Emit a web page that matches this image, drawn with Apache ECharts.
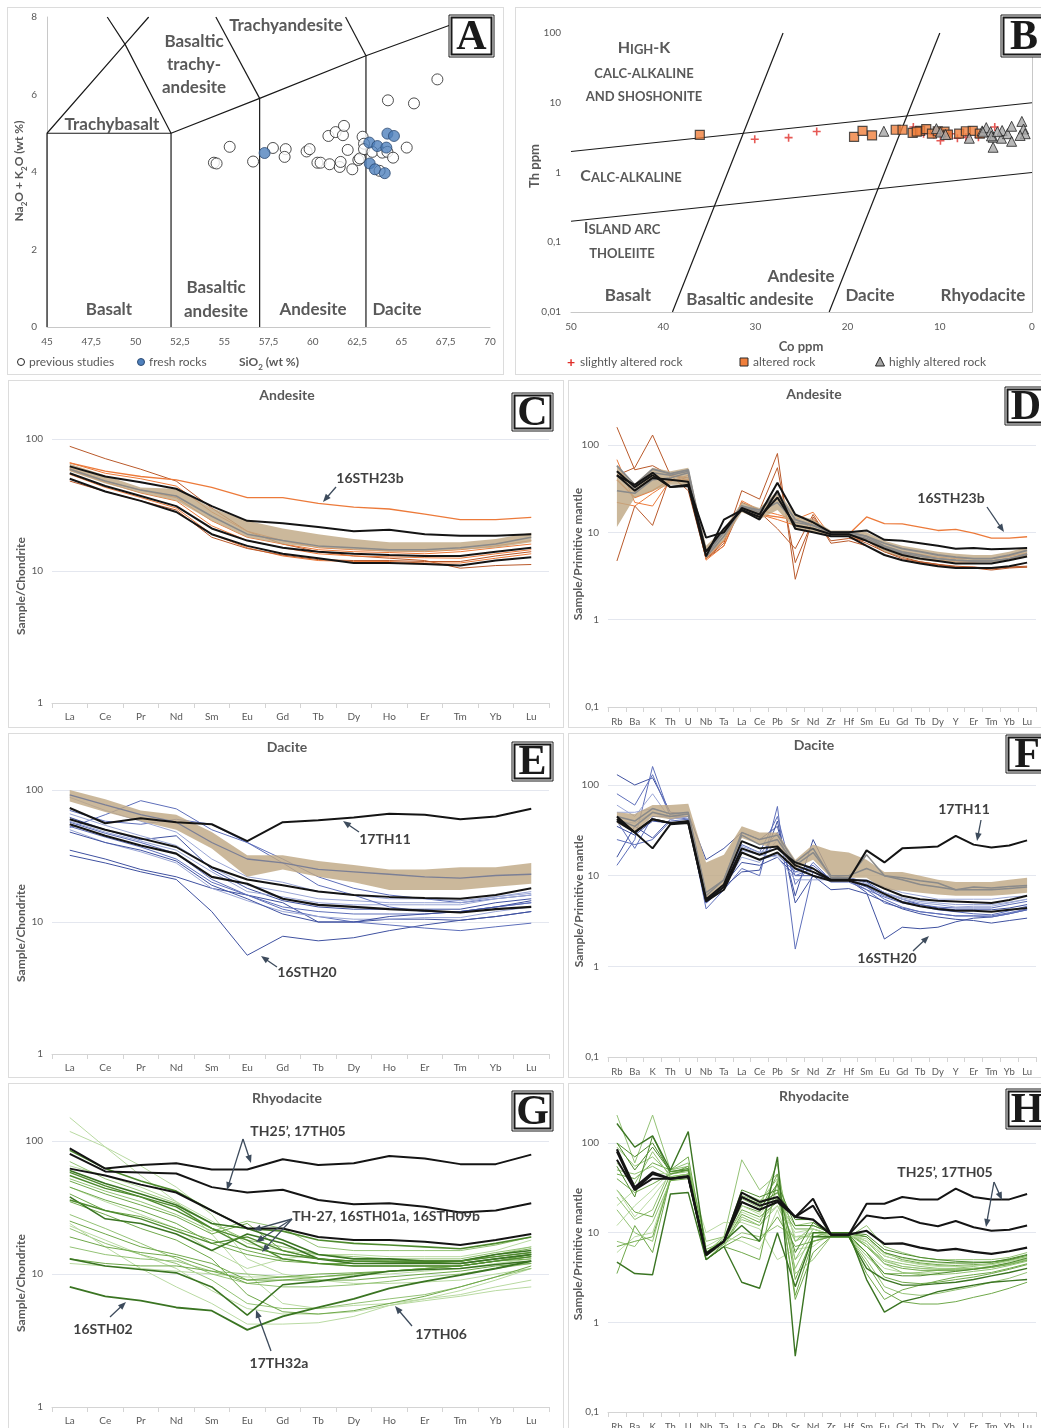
<!DOCTYPE html>
<html>
<head>
<meta charset="utf-8">
<script src="https://cdn.jsdelivr.net/npm/echarts@6/dist/echarts.min.js"></script>
<style>
  html, body { margin: 0; padding: 0; background: #fff; width: 1041px; height: 1428px; overflow: hidden; position: relative; }
  .panel { position: absolute; border: 1px solid #dcdcdc; box-sizing: border-box; background: #fff; }
</style>
</head>
<body>
<div id="pA" class="panel" style="left:7px;top:7px;width:497px;height:368px"></div>
<div id="pB" class="panel" style="left:515px;top:7px;width:532px;height:368px"></div>
<div id="pC" class="panel" style="left:8px;top:380px;width:556px;height:348px"></div>
<div id="pD" class="panel" style="left:568px;top:380px;width:482px;height:348px"></div>
<div id="pE" class="panel" style="left:8px;top:733px;width:556px;height:345px"></div>
<div id="pF" class="panel" style="left:568px;top:733px;width:482px;height:345px"></div>
<div id="pG" class="panel" style="left:8px;top:1083px;width:556px;height:352px"></div>
<div id="pH" class="panel" style="left:568px;top:1083px;width:482px;height:352px"></div>
<script>
// element lists
const REE = ['La', 'Ce', 'Pr', 'Nd', 'Sm', 'Eu', 'Gd', 'Tb', 'Dy', 'Ho', 'Er', 'Tm', 'Yb', 'Lu'];
const PM = ['Rb', 'Ba', 'K', 'Th', 'U', 'Nb', 'Ta', 'La', 'Ce', 'Pb', 'Sr', 'Nd', 'Zr', 'Hf', 'Sm', 'Eu', 'Gd', 'Tb', 'Dy', 'Y', 'Er', 'Tm', 'Yb', 'Lu'];

// A - TAS
const prevSiO2 = [54.42, 54.57, 55.31, 56.63, 57.75, 58.47, 58.41, 59.65, 59.82, 60.26, 60.44, 60.95, 60.88, 61.29, 61.70, 61.76, 61.52, 61.57, 61.97, 62.23, 62.57, 62.66, 62.81, 62.89, 62.89, 63.36, 63.77, 63.92, 64.21, 64.53, 64.24, 65.71, 65.30, 67.03];
const prevAlk = [4.24, 4.22, 4.65, 4.27, 4.62, 4.59, 4.39, 4.53, 4.59, 4.24, 4.24, 4.20, 4.93, 5.03, 4.95, 5.19, 4.13, 4.26, 4.57, 4.07, 4.31, 4.35, 4.91, 4.73, 4.59, 4.52, 4.03, 4.50, 4.52, 4.37, 5.85, 5.77, 4.63, 6.39];
const freshSiO2 = [57.28, 63.19, 63.64, 64.15, 64.21, 64.58, 63.21, 63.51, 64.06];
const freshAlk = [4.49, 4.76, 4.67, 4.63, 4.99, 4.93, 4.22, 4.07, 3.97];

// B - Th vs Co
const slightCo = [30.07, 26.4, 23.35, 12.87, 9.93, 8.09, 5.81, 4.04, 7.17, 11.76, 10.66, 8.8];
const slightTh = [3.0, 3.16, 3.88, 4.5, 2.85, 3.1, 3.2, 4.5, 3.2, 3.6, 3.5, 3.6];
const alteredCo = [36.03, 19.3, 18.38, 17.35, 14.78, 14.04, 12.94, 12.13, 11.47, 10.85, 10.22, 9.49, 9.12, 7.9, 7.17, 6.43, 5.66, 12.5];
const alteredTh = [3.47, 3.25, 3.95, 3.4, 4.1, 4.1, 3.7, 3.95, 4.2, 3.6, 3.9, 3.85, 3.5, 3.6, 3.9, 3.95, 3.6, 3.85];
const highCo = [16.07, 10.37, 9.93, 9.38, 6.8, 5.4, 4.96, 4.49, 4.22, 4.22, 4.4, 3.31, 3.24, 2.65, 2.21, 2.21, 1.1, 0.92, 0.74, 1.29, 3.75, 5.33];
const highTh = [3.9, 4.25, 3.8, 3.5, 3.1, 3.95, 4.4, 3.85, 3.2, 2.3, 3.35, 3.1, 4.0, 3.6, 4.6, 2.8, 5.4, 4.2, 3.6, 3.4, 3.85, 3.8];

// C - andesite, chondrite
const cBandHigh = [65, 53, 43, 42, 30, 24, 21, 19, 17.5, 16.5, 16.5, 16.5, 17.5, 19.5];
const cBandLow = [57, 46, 39, 34, 24, 18, 16, 15, 14.5, 14, 14, 14.5, 15, 16.5];
const cGrey = [59, 48, 41, 37, 26, 19, 17, 15.5, 15, 14.5, 14.5, 15, 16, 18];
const c16STH23b = [66, 57, 52, 49, 43, 36, 36, 32.5, 30.5, 29.5, 27, 24.5, 24.5, 25.5];
const cBrown = [88, 71, 59, 48, 30, 20, 16, 14, 13, 12.5, 12, 10.5, 11, 11.2];
const cOrange1 = [54, 43, 36, 30, 19, 15, 13, 12, 11.8, 11.8, 11.5, 11.5, 12.5, 13.5];
const cOrange2 = [58, 47, 39, 34, 22, 17, 15, 13.5, 13, 12.8, 12.6, 12.5, 13.5, 14.5];
const cOrange3 = [48, 40, 34, 29, 18, 14.8, 13.2, 12.2, 12, 12, 11.8, 11.8, 13, 14];
const cOrange4 = [60, 48, 41, 36, 24, 18, 16, 14.5, 14, 13.8, 13.5, 14, 15, 16];
const cOrange5 = [66, 55, 50, 44, 28, 20, 17, 15, 14.5, 14.2, 14, 14.5, 15.5, 17];
const cBlack1 = [62, 52, 47, 42, 31, 24, 23, 21.5, 20, 20.5, 19, 18.5, 18.5, 19];
const cBlack2 = [55, 44, 37, 31, 21, 17, 15, 14, 13.5, 13.2, 13, 13, 14, 15];
const cBlack3 = [50, 40, 34, 28, 19, 15.5, 13.5, 12.5, 11.5, 11.5, 11.3, 11, 12, 12.7];

// D - andesite, primitive mantle
const dBandHigh = [58, 36, 55, 50, 55, 7, 11, 22, 19, 30, 16, 14, 10.5, 10.5, 10, 8, 7, 6.5, 6, 5.7, 5.5, 5.5, 6, 6.8];
const dBandLow = [11.5, 25, 30, 35, 35, 5, 8, 17, 14, 18, 11, 10, 9, 9, 8, 6, 5.2, 4.8, 4.6, 4.5, 4.5, 4.5, 4.8, 5.3];
const dGrey1 = [58, 35, 53, 47, 52, 5.5, 10, 20, 18, 28, 14, 12, 10, 10, 9, 7.5, 6.5, 6, 5.5, 5.2, 5, 5, 5.5, 6.2];
const dGrey2 = [30, 28, 40, 42, 48, 6, 10, 20, 17, 22, 13, 12, 10, 10, 9, 7, 6, 5.5, 5, 4.8, 4.7, 4.7, 5, 5.6];
const dGrey3 = [50, 32, 48, 45, 50, 5.2, 9, 19, 16, 25, 12, 11, 9.5, 9.5, 8.5, 6.8, 5.8, 5.3, 5, 4.8, 4.7, 4.7, 5, 5.7];
const d16STH23b = [40, 25, 30, 40, 40, 5.5, 8, 20, 16, 15, 14, 12, 10, 9.5, 15, 12.6, 12.5, 11.5, 10.5, 10.8, 9.8, 8.6, 8.6, 8.9];
const dBrown1 = [160, 52, 58, 45, 30, 5, 7.5, 30, 24, 80, 2.9, 15, 8, 8.5, 8, 6, 5.2, 4.6, 4.3, 4.1, 4, 3.9, 4, 4];
const dBrown2 = [4.7, 20, 12, 45, 40, 5, 8, 22, 18, 55, 4.5, 14, 9, 9, 7.5, 6, 5, 4.6, 4.3, 4, 4, 3.8, 4, 4.1];
const dBrown3 = [45, 55, 130, 45, 42, 5, 7, 20, 17, 11, 6.5, 16, 7.5, 8, 7, 5.5, 4.8, 4.5, 4.2, 4, 3.9, 3.7, 3.9, 4];
const dOrange1 = [68, 22, 20, 40, 38, 4.8, 7, 23, 18, 16, 14, 17, 9, 9, 8.5, 7, 6, 5.6, 5.2, 5, 5, 5, 5.3, 5.8];
const dOrange2 = [22, 20, 28, 38, 45, 5, 8, 20, 16, 14, 12, 11, 9, 9, 8, 6.3, 5.5, 5, 4.8, 4.6, 4.6, 4.7, 5, 5.5];
const dBlack1 = [45, 35, 48, 33, 35, 8.7, 10, 19, 16, 37, 16, 13, 10, 10, 10.5, 8.2, 8, 7.5, 7, 6.5, 6.6, 6.4, 6.5, 6.6];
const dBlack2 = [50, 33, 45, 33, 34, 5.3, 14, 18, 14, 30, 11, 10, 9, 9, 7, 5.5, 4.8, 4.4, 4.1, 3.9, 3.9, 3.9, 4.1, 4.5];
const dBlack3 = [45, 30, 42, 40, 38, 6, 11, 18, 15, 25, 12, 11, 9.5, 9.5, 8, 6.5, 5.5, 5, 4.7, 4.4, 4.4, 4.4, 4.8, 5.3];

// E - dacite, chondrite
const eBandHigh = [100, 85, 70, 65, 48, 32, 32, 29, 27, 25, 25, 26, 26, 28];
const eBandLow = [82, 68, 58, 50, 36, 22, 25, 22, 20, 17.5, 17.5, 17.5, 18.5, 19.5];
const eGrey = [92, 77, 65, 57, 40, 30, 28, 25, 24, 23, 22, 21.5, 22.5, 23];
const e17TH11 = [73, 56, 61, 57, 55, 41, 57, 59, 62, 66, 65, 60, 63, 72];
const eBlack2 = [60, 50, 43, 37, 26, 21, 19, 17, 16, 15.5, 15.2, 15, 16, 18];
const eBlack3 = [55, 45, 38, 33, 22, 19.5, 15, 13.5, 13, 12.5, 12.2, 11.8, 12.5, 13];
const e16STH20 = [32, 28, 24, 21, 12, 5.6, 7.8, 7.2, 7.6, 8.6, 9.5, 10.3, 11, 12];
const eBlue1 = [52, 65, 83, 72, 50, 40, 30, 22, 18, 16, 15, 14, 15, 16];
const eBlue2 = [35, 30, 25, 22, 18, 16, 14, 10, 10, 10.5, 10.5, 10.3, 11, 12];
const eBlue3 = [57, 47, 40, 33, 21, 16, 12.5, 11, 10, 9.5, 9, 8.6, 9.2, 9.8];
const eBlue4 = [50, 40, 34, 28, 18, 14.5, 12, 11, 10.5, 10.5, 10.8, 10.8, 12, 13];
const eBlue5 = [53, 44, 37, 30, 20, 16, 13, 12, 11.5, 11.5, 11.5, 12, 13, 14];
const eBlue6 = [62, 50, 42, 45, 25, 18, 14.5, 13, 12.5, 12.5, 12.5, 12.5, 14, 15];
const eBlue7 = [58, 48, 41, 35, 24, 17, 15.5, 14, 13.5, 13.5, 13.5, 13.5, 15, 16];
const eBlue8 = [66, 54, 45, 38, 26, 19, 17, 15, 14.5, 14, 14, 14, 15.5, 17];
const eBlue9 = [70, 58, 55, 60, 55, 40, 28, 19, 16, 13, 12, 12, 13, 14];
const eBlue10 = [48, 40, 35, 29, 19, 15, 11.5, 10, 10, 11, 11.5, 12, 13, 14.5];
const eBlue11 = [88, 70, 58, 48, 30, 22, 20, 17, 16, 15, 15, 14.5, 15.5, 16.5];

// F - dacite, primitive mantle
const fBandHigh = [50, 48, 60, 60, 62, 14, 17, 35, 30, 30, 15, 22, 19, 18, 15, 11, 11, 10, 9, 8.5, 8.5, 8.5, 9, 9.5];
const fBandLow = [38, 30, 45, 42, 45, 5.5, 8, 26, 22, 20, 12, 15, 9.5, 9.5, 9.5, 7, 6.8, 6.5, 6.2, 6, 6, 6, 6.2, 6.5];
const fGrey1 = [45, 40, 55, 48, 50, 6, 9, 30, 25, 28, 14, 20, 9.5, 9.5, 17, 10, 9.5, 8.8, 8.3, 7, 7.5, 7.3, 7.6, 7.8];
const fGrey2 = [42, 35, 50, 45, 48, 6.5, 9, 28, 22, 25, 13, 18, 10, 10, 12, 10, 9, 8, 7.5, 7, 7, 7, 7.2, 7.5];
const f17TH11 = [42, 30, 20, 37, 38, 5.3, 7.5, 20, 17, 20, 14, 12, 9, 9, 19, 14, 20, 20.5, 21, 27.5, 22, 20.5, 21.5, 24.5];
const fBlack2 = [45, 30, 42, 38, 40, 5.5, 8, 24, 20, 21, 13, 11, 9, 9, 8.8, 7.2, 6, 5.5, 5.3, 5.2, 5.1, 5, 5.4, 6];
const fBlack3 = [40, 30, 42, 38, 38, 5.2, 7, 18, 15, 18, 12, 10, 8.8, 8.8, 7.8, 6.3, 5.1, 4.6, 4.3, 4.1, 4.1, 4, 4.2, 4.4];
const f16STH20 = [35, 28, 40, 38, 40, 5, 8, 14, 13, 16, 10, 10, 9, 9, 6.5, 2, 2.7, 2.6, 2.7, 3.1, 3.4, 3.5, 3.8, 4.2];
const fBlue1 = [130, 100, 120, 50, 48, 15, 20, 30, 25, 35, 6, 25, 10, 9.5, 8.5, 6.5, 5.5, 4.8, 4.4, 4.2, 4.2, 4.2, 4.4, 4.8];
const fBlue2 = [13, 25, 160, 45, 42, 4.3, 7, 12, 10, 58, 1.55, 11, 8.5, 8.5, 7, 5, 4.4, 4, 3.8, 3.6, 3.6, 3.5, 3.8, 4.2];
const fBlue3 = [16, 35, 26, 42, 45, 5, 7.5, 11, 11.5, 40, 5, 10, 7, 7.2, 6.3, 5.2, 4.3, 3.8, 3.5, 3.3, 3.2, 3, 3.2, 3.4];
const fBlue4 = [80, 60, 130, 45, 50, 5.5, 8, 22, 18, 45, 8, 14, 9, 9, 7.5, 6, 5.2, 4.8, 4.5, 4.4, 4.4, 4.4, 4.8, 5.2];
const fBlue5 = [60, 45, 80, 42, 45, 5, 7.5, 16, 14, 25, 11, 11, 9, 9, 8, 6.5, 5.5, 5, 4.8, 4.5, 4.6, 4.6, 5, 5.5];
const fBlue6 = [25, 22, 25, 40, 42, 5, 7.5, 20, 17, 30, 10, 12, 9, 9, 7.5, 5.5, 4.5, 4, 3.8, 3.6, 3.6, 3.6, 3.9, 4.3];
const fBlue7 = [40, 38, 50, 42, 45, 5.5, 8, 21, 18, 20, 12, 12, 9.5, 9.5, 8.2, 6.5, 5.7, 5.2, 5, 4.8, 4.8, 4.8, 5.1, 5.5];
const fBlue8 = [40, 20, 45, 45, 45, 5, 7.5, 18, 15, 17, 11, 13, 9, 9, 7, 5.8, 5, 4.6, 4.2, 4, 3.8, 3.7, 4.1, 4.6];
const fBlue9 = [50, 50, 55, 48, 48, 5.5, 8, 19, 17, 16, 9, 9, 9, 9, 9, 7.5, 6.5, 6, 5.5, 5.5, 5.5, 5.5, 5.8, 6];

// G - rhyodacite, chondrite
const gTH25 = [88, 62, 66, 68, 61, 61, 73, 66, 68, 77, 74, 67, 67, 79];
const g17TH05 = [80, 59, 58, 57, 45, 41, 43, 36, 33.5, 34, 32, 29, 30, 34];
const gBlack3 = [62, 55, 47, 41, 30, 22, 22, 19, 18, 18, 17.5, 16.5, 18, 20];
const g16STH02 = [8, 6.8, 6.3, 5.6, 5.3, 3.8, 4.8, 5.6, 6.5, 7.8, 8.8, 9.8, 11, 12.5];
const g17TH32a = [13, 11.5, 10.8, 10.2, 8, 4.9, 8.3, 8.8, 9.6, 10.5, 10.8, 11, 11.8, 12.5];
const g17TH06 = [24, 16, 11, 8, 6, 4.2, 4.2, 4.3, 4.8, 5.8, 6.3, 6.8, 7.5, 8];
const gG1 = [85, 62, 50, 42, 30, 22, 21, 18, 17, 16.5, 16, 15.5, 17, 19];
const gG2 = [60, 48, 40, 33, 24, 22, 18, 14, 13, 13, 12.5, 12.5, 14, 15];
const gG3 = [58, 46, 38, 32, 22, 16, 14, 13, 12.5, 12.3, 12.2, 12, 13, 14];
const gG4 = [38, 26, 24, 20, 15, 20, 17, 13, 12, 12, 12, 12, 13, 14];
const gG5 = [55, 44, 38, 30, 22, 18, 13, 12, 11.5, 11.5, 11.5, 11.5, 12.5, 13.5];
const gG6 = [50, 40, 33, 27, 20, 24, 15, 13, 12.5, 12.5, 12.5, 12.5, 13.5, 14.5];
const gG7 = [45, 36, 30, 24, 17, 14, 12.5, 12, 12, 12, 12, 12.5, 14, 15.5];
const gG8 = [70, 52, 42, 34, 24, 18, 16, 14, 13.5, 13, 13, 13, 14.5, 16];
const gG9 = [118, 90, 65, 45, 28, 13, 10, 9, 8.5, 8.5, 8.7, 9, 10, 11];
const gG10 = [150, 90, 55, 35, 20, 10, 6, 5.5, 5.8, 6, 6.5, 7, 8, 9];
const gG11 = [25, 20, 16, 14, 12, 9, 9.5, 10, 10.2, 10.5, 11, 11.5, 12.5, 13.5];
const gG12 = [19, 16, 14.5, 13.5, 11, 8.5, 9, 9.5, 10, 10.5, 11, 11.5, 12.5, 14];
const gG13 = [16, 14, 13, 12.5, 10.5, 10, 9.5, 9.5, 10, 10.5, 11, 11.5, 12.5, 13.5];
const gG14 = [13, 12, 11.5, 11.5, 10.5, 9, 9, 9, 9, 9.5, 10, 10.5, 11.5, 12];
const gG15 = [23, 18, 14, 11, 7.5, 5.5, 5, 5, 5.2, 5.8, 6.5, 7.5, 9, 11];
const gG16 = [35, 28, 22, 18, 13, 7, 5.2, 5, 5.3, 6, 6.8, 8, 9.5, 11.5];
const gG17 = [22, 17, 14, 12, 9, 6, 5.5, 5.5, 6, 6.5, 7, 8, 9.5, 11];
const gG18 = [45, 35, 28, 22, 15, 11, 13, 14, 13, 12.5, 12.5, 12.5, 14, 16];
const gG19 = [65, 55, 45, 35, 25, 17, 15, 14, 14, 13.5, 13.5, 13.5, 15, 18];
const gG20 = [52, 42, 35, 28, 21, 25, 22, 16, 15, 15, 15, 15, 16.5, 19];
const gG21 = [40, 30, 27, 22, 18, 15, 13, 12, 11.5, 11.5, 11.5, 11.5, 12.5, 13];
const gG22 = [28, 22, 17, 13, 10, 8.5, 8, 8, 8.3, 8.8, 9.5, 10, 11, 12];
const gG23 = [12, 11.5, 11, 10.5, 10, 9.5, 9.5, 9.5, 9.8, 10, 10.5, 11, 12, 13];
const gG24 = [36, 30, 26, 21, 17, 19, 15, 13, 12.5, 12.5, 12.5, 12.5, 13.5, 14.5];

// H - rhyodacite, primitive mantle
const hTH25 = [80, 30, 45, 40, 43, 5.8, 8, 28, 22, 25, 15, 24, 9.5, 9.5, 21, 21, 25, 23.5, 23.5, 31, 25, 23.5, 23.5, 27];
const h17TH05 = [65, 30, 40, 40, 42, 5.8, 8, 25, 20, 23, 15, 20, 9.5, 9.5, 15.5, 14.5, 15, 12.8, 11.8, 13.5, 11.5, 10.5, 10.8, 12];
const hBlack3 = [85, 32, 47, 40, 42, 5.6, 8, 22, 18, 22, 15, 14, 9.5, 9.5, 10.5, 7.5, 7.6, 6.8, 6.3, 6.6, 6.1, 5.8, 6.2, 6.8];
const hG1 = [205, 60, 205, 50, 55, 8, 9, 65, 30, 45, 8, 12, 10, 10, 8, 5, 4.5, 4.2, 4, 4, 4, 4.2, 4.5, 5];
const hG2 = [165, 90, 120, 50, 134, 6, 8, 12, 8, 70, 0.42, 10, 10, 10, 3, 1.3, 1.7, 1.9, 2.2, 2.4, 2.6, 2.8, 2.9, 3];
const hG3 = [4.7, 3.5, 3.4, 27, 28, 5, 7, 2.8, 2.4, 10, 2.5, 9, 9, 9, 4, 3, 2.6, 2.6, 2.7, 2.8, 3, 3.3, 3.6, 4];
const hG4 = [3.5, 12, 6, 40, 45, 5, 7, 6, 5, 38, 1.8, 6, 9, 9, 3.5, 1.8, 2.3, 2.6, 2.9, 3.2, 3.4, 3.6, 4, 4.5];
const hG5 = [55, 25, 120, 45, 50, 5.5, 8, 30, 25, 30, 6, 13, 9.5, 9.5, 6, 3.5, 3.3, 3.3, 3.5, 3.7, 3.9, 4.2, 4.6, 5.2];
const hG6 = [30, 17, 15, 45, 50, 6.5, 8, 18, 15, 22, 11, 11, 9.5, 9.5, 9, 6, 5, 4.6, 4.4, 4.3, 4.4, 4.5, 4.9, 5.4];
const hG7 = [18, 10, 8, 42, 45, 5, 7, 15, 12, 25, 4, 10, 9, 9, 5.5, 3.5, 3.5, 3.6, 3.8, 4, 4.2, 4.5, 5, 5.6];
const hG8 = [100, 70, 100, 48, 52, 5.5, 8, 25, 21, 28, 14, 14, 10, 10, 9.5, 6.5, 5.8, 5.3, 5, 4.8, 4.7, 4.7, 5.1, 5.7];
const hG9 = [45, 40, 60, 50, 70, 6, 8.5, 20, 17, 45, 3, 9, 10, 10, 7, 4.5, 4, 3.8, 3.8, 3.8, 3.9, 4.1, 4.4, 4.9];
const hG10 = [8, 7, 13, 38, 42, 5.5, 7.5, 10, 9, 12, 9, 9, 9, 9, 5, 2.5, 2.1, 2, 2.1, 2.3, 2.5, 2.8, 3.1, 3.6];
const hG11 = [12, 20, 30, 48, 50, 7, 9, 8, 6.5, 18, 5, 8, 9.5, 9.5, 6, 4, 3.6, 3.5, 3.6, 3.7, 3.9, 4.1, 4.6, 5.1];
const hG12 = [6, 9, 10, 40, 45, 10, 13, 13, 11, 5, 6.5, 7, 10, 10, 7, 5, 4.2, 4, 3.9, 3.9, 4, 4.2, 4.6, 5.1];
const hG13 = [40, 28, 35, 45, 55, 5, 7.5, 16, 13, 35, 2, 8, 9, 9, 4.5, 2.2, 1.7, 1.6, 1.6, 1.7, 1.9, 2.1, 2.4, 2.8];
const hG14 = [90, 55, 70, 45, 48, 5.5, 8, 28, 23, 24, 12, 13, 9.5, 9.5, 8, 5.5, 4.8, 4.5, 4.3, 4.2, 4.3, 4.4, 4.8, 5.3];
const hG15 = [25, 14, 18, 50, 60, 6, 8, 14, 12, 20, 8, 10, 9.5, 9.5, 7, 4.8, 4.2, 4, 3.9, 3.9, 4, 4.1, 4.5, 5];
const hG16 = [50, 45, 55, 42, 45, 6, 9, 24, 19, 60, 3.5, 5, 9, 9, 12, 7, 6, 5.3, 5, 5, 5, 5, 5.3, 6];
const hG17 = [30, 15, 25, 45, 50, 6, 8, 20, 16, 28, 9, 10, 9.5, 9.5, 8, 5.5, 4.8, 4.4, 4.2, 4.2, 4.3, 4.4, 4.8, 5.3];
const hG18 = [7, 8, 9, 38, 40, 5, 7, 9, 8, 15, 7, 8, 9, 9, 6, 3.2, 2.8, 2.7, 2.8, 3, 3.2, 3.5, 3.9, 4.4];
const hG19 = [60, 35, 80, 42, 45, 5.5, 8, 26, 22, 40, 5, 11, 9.5, 9.5, 7.5, 4.5, 3.6, 3.4, 3.4, 3.5, 3.7, 3.9, 4.3, 4.8];
const hG20 = [20, 30, 45, 46, 52, 6, 8, 17, 14, 20, 10, 11, 9.5, 9.5, 8.5, 5.8, 5.2, 4.8, 4.6, 4.5, 4.6, 4.7, 5.1, 5.6];
const hG21 = [100, 50, 90, 48, 50, 6, 8, 22, 18, 35, 12, 12, 10, 10, 9, 6, 5.3, 4.9, 4.7, 4.6, 4.6, 4.7, 5, 5.6];

const FONT = 'Lato, "Open Sans", sans-serif';
const GREY = '#595959';
const DARK = '#404040';
const ARROW = '#3d4b5c';

function comma(v) {
  return String(+(+v).toPrecision(4)).replace('.', ',');
}

function pairs(xs, ys) {
  return xs.map((x, i) => [x, ys[i]]);
}

function txt(x, y, s, size, o) {
  o = o || {};
  const el = {
    type: 'text', x: x, y: y, z: 60,
    style: {
      text: s,
      fill: o.color || GREY,
      font: (o.weight || 'bold') + ' ' + size + 'px ' + FONT,
      align: o.align || 'center', textAlign: o.align || 'center',
      verticalAlign: 'middle', textVerticalAlign: 'middle'
    }
  };
  if (o.lh) el.style.lineHeight = o.lh;
  if (o.rot) el.rotation = o.rot;
  return el;
}

// mixed-size bold text (small caps, subscripts), laid out piece by piece
const measureCtx = document.createElement('canvas').getContext('2d');
function pieces(x, y, parts, rot) {
  const fonts = parts.map(p => 'bold ' + p[1] + 'px ' + FONT);
  const widths = parts.map((p, i) => { measureCtx.font = fonts[i]; return measureCtx.measureText(p[0]).width; });
  let cx = -widths.reduce((a, b) => a + b, 0) / 2;
  const children = parts.map((p, i) => {
    const el = {
      type: 'text', z: 60, x: cx, y: 6 + (p[2] || 0),
      style: { text: p[0], font: fonts[i], fill: GREY, align: 'left', textAlign: 'left', verticalAlign: 'bottom', textVerticalAlign: 'bottom' }
    };
    cx += widths[i];
    return el;
  });
  return { type: 'group', x: x, y: y, rotation: rot || 0, z: 60, children: children };
}

function arrow(x1, y1, x2, y2) {
  const a = Math.atan2(y2 - y1, x2 - x1), L = 8, W = 3.2;
  const c = Math.cos(a), s = Math.sin(a);
  return [
    { type: 'line', z: 60, shape: { x1: x1, y1: y1, x2: x2 - L * 0.7 * c, y2: y2 - L * 0.7 * s }, style: { stroke: ARROW, lineWidth: 1.3 } },
    { type: 'polygon', z: 60, shape: { points: [[x2, y2], [x2 - L * c + W * s, y2 - L * s - W * c], [x2 - L * c - W * s, y2 - L * s + W * c]] }, style: { fill: ARROW } }
  ];
}

function letterBox(x, y, w, h, letter) {
  return {
    type: 'group', x: x, y: y, z: 100,
    children: [
      { type: 'rect', z: 100, shape: { x: 0, y: 0, width: w, height: h }, style: { fill: '#fff', stroke: '#1a1a1a', lineWidth: 1 } },
      { type: 'rect', z: 100, shape: { x: 2.5, y: 2.5, width: w - 5, height: h - 5 }, style: { fill: '#fff', stroke: '#1a1a1a', lineWidth: 2 } },
      { type: 'text', z: 101, x: w / 2, y: h / 2 + 2, style: { text: letter, fill: '#1a1a1a', font: 'bold 42px "Liberation Serif", "DejaVu Serif", serif', align: 'center', textAlign: 'center', verticalAlign: 'middle', textVerticalAlign: 'middle' } }
    ]
  };
}

function boundary(pts) {
  return { type: 'line', data: pts, symbol: 'none', silent: true, z: 3, lineStyle: { color: '#1a1a1a', width: 1.2 } };
}

function tickLabel(size) {
  return { color: GREY, fontSize: size, fontFamily: FONT, formatter: comma };
}

// ---------- A ----------
(function () {
  const chart = echarts.init(document.getElementById('pA'));
  chart.setOption({
    animation: false,
    grid: { left: 39, top: 9, width: 443, height: 310 },
    xAxis: {
      type: 'value', min: 45, max: 70, interval: 2.5,
      axisLine: { lineStyle: { color: '#c8c8c8' } }, axisTick: { show: false }, splitLine: { show: false },
      axisLabel: Object.assign(tickLabel(10), { margin: 10 })
    },
    yAxis: {
      type: 'value', min: 0, max: 8, interval: 2,
      axisLine: { show: true, lineStyle: { color: '#c8c8c8' } }, axisTick: { show: false }, splitLine: { show: false },
      axisLabel: Object.assign(tickLabel(10), { margin: 10 })
    },
    series: [
      boundary([[45, 0], [45, 5], [52, 5], [52, 0]]),
      boundary([[52, 5], [57, 5.9], [63, 7], [69, 8]]),
      boundary([[57, 0], [57, 5.9]]),
      boundary([[63, 0], [63, 7]]),
      boundary([[45, 5], [49.4, 7.3], [50.74, 8]]),
      boundary([[52, 5], [49.4, 7.3], [48.4, 8]]),
      boundary([[57, 5.9], [54.53, 8]]),
      boundary([[63, 7], [61.85, 8]]),
      {
        type: 'scatter', data: pairs(prevSiO2, prevAlk), symbolSize: 11, z: 5, silent: true,
        itemStyle: { color: '#fff', borderColor: '#222', borderWidth: 1 }
      },
      {
        type: 'scatter', data: pairs(freshSiO2, freshAlk), symbolSize: 11, z: 6, silent: true,
        itemStyle: { color: '#4F81BD', borderColor: '#2c4a72', borderWidth: 1 }
      }
    ],
    graphic: [
      txt(278, 18, 'Trachyandesite', 17),
      txt(186, 57, 'Basaltic\ntrachy-\nandesite', 17, { lh: 23 }),
      txt(104, 117, 'Trachybasalt', 17),
      txt(101, 302, 'Basalt', 17),
      txt(208, 292, 'Basaltic\nandesite', 17, { lh: 24 }),
      txt(305, 302, 'Andesite', 17),
      txt(389, 302, 'Dacite', 17),
      pieces(11, 163, [['Na', 12], ['2', 8, 3], ['O + K', 12], ['2', 8, 3], ['O (wt %)', 12]], Math.PI / 2),
      pieces(261, 354, [['SiO', 12], ['2', 8, 3], [' (wt %)', 12]]),
      { type: 'circle', z: 60, shape: { cx: 13, cy: 354, r: 3.5 }, style: { fill: '#fff', stroke: '#222', lineWidth: 1 } },
      txt(21, 354, 'previous studies', 12, { weight: 'normal', align: 'left' }),
      { type: 'circle', z: 60, shape: { cx: 133, cy: 354, r: 3.5 }, style: { fill: '#4F81BD', stroke: '#2c4a72', lineWidth: 1 } },
      txt(141, 354, 'fresh rocks', 12, { weight: 'normal', align: 'left' }),
      letterBox(441, 7, 45, 42, 'A')
    ]
  });
})();

// ---------- B ----------
(function () {
  const chart = echarts.init(document.getElementById('pB'));
  chart.setOption({
    animation: false,
    grid: { left: 55, top: 25, width: 461, height: 279 },
    xAxis: {
      type: 'value', min: 0, max: 50, interval: 10, inverse: true,
      axisLine: { lineStyle: { color: '#c8c8c8' } }, axisTick: { show: false }, splitLine: { show: false },
      axisLabel: Object.assign(tickLabel(10), { margin: 10 })
    },
    yAxis: {
      type: 'log', logBase: 10, min: 0.01, max: 100,
      axisLine: { show: true, lineStyle: { color: '#c8c8c8' } }, axisTick: { show: false }, splitLine: { show: false },
      axisLabel: Object.assign(tickLabel(10), { margin: 10 })
    },
    series: [
      boundary([[50, 2], [0, 10]]),
      boundary([[50, 0.2], [0, 1]]),
      boundary([[39, 0.01], [27, 100]]),
      boundary([[22, 0.01], [10, 100]]),
      {
        type: 'scatter', data: pairs(slightCo, slightTh), symbolSize: 8, z: 5, silent: true,
        symbol: 'path://M4,0 L6,0 L6,4 L10,4 L10,6 L6,6 L6,10 L4,10 L4,6 L0,6 L0,4 L4,4 Z',
        itemStyle: { color: '#E0302A' }
      },
      {
        type: 'scatter', data: pairs(alteredCo, alteredTh), symbol: 'rect', symbolSize: 9, z: 6, silent: true,
        itemStyle: { color: '#F07F3C', borderColor: '#2a2a2a', borderWidth: 1.2 }
      },
      {
        type: 'scatter', data: pairs(highCo, highTh), symbol: 'triangle', symbolSize: 10, z: 7, silent: true,
        itemStyle: { color: '#A6A6A6', borderColor: '#222', borderWidth: 1 }
      }
    ],
    graphic: [
      pieces(128, 42, [['H', 16], ['IGH', 13], ['-K', 16]]),
      pieces(128, 66, [['CALC-ALKALINE', 13]]),
      pieces(128, 89, [['AND SHOSHONITE', 13]]),
      pieces(115, 170, [['C', 16], ['ALC-ALKALINE', 13]]),
      pieces(106, 222, [['I', 16], ['SLAND ARC', 13]]),
      pieces(106, 246, [['THOLEIITE', 13]]),
      txt(112, 288, 'Basalt', 17),
      txt(234, 292, 'Basaltic andesite', 17),
      txt(285, 269, 'Andesite', 17),
      txt(354, 288, 'Dacite', 17),
      txt(467, 288, 'Rhyodacite', 17),
      txt(285, 339, 'Co ppm', 13),
      txt(19, 158, 'Th ppm', 13, { rot: Math.PI / 2 }),
      txt(55, 354, '+', 14, { color: '#E0302A', weight: 'bold' }),
      txt(64, 354, 'slightly altered rock', 12, { weight: 'normal', align: 'left' }),
      { type: 'rect', z: 60, shape: { x: 224, y: 350, width: 8, height: 8 }, style: { fill: '#F07F3C', stroke: '#2a2a2a', lineWidth: 1 } },
      txt(237, 354, 'altered rock', 12, { weight: 'normal', align: 'left' }),
      { type: 'polygon', z: 60, shape: { points: [[364, 349], [368.5, 358], [359.5, 358]] }, style: { fill: '#A6A6A6', stroke: '#222', lineWidth: 1 } },
      txt(373, 354, 'highly altered rock', 12, { weight: 'normal', align: 'left' }),
      letterBox(485, 7, 46, 42, 'B')
    ]
  });
})();

// ---------- spider diagrams ----------
function bandSeries(high, low) {
  return {
    type: 'custom', z: 3, silent: true, clip: false,
    data: [[0, high[0]]],
    renderItem: function (params, api) {
      const top = high.map((v, i) => api.coord([i, v]));
      const bot = low.map((v, i) => api.coord([i, v])).reverse();
      return { type: 'polygon', shape: { points: top.concat(bot) }, style: { fill: 'rgba(192,168,133,0.82)' } };
    }
  };
}

function spider(id, o) {
  const chart = echarts.init(document.getElementById(id));
  const series = o.lines.map(l => ({
    type: 'line', data: l.data, symbol: 'none', silent: true, clip: false,
    z: l.z || 2, lineStyle: { color: l.color, width: l.width || 1 }
  }));
  if (o.band) series.push(bandSeries(o.band[0], o.band[1]));
  chart.setOption({
    animation: false,
    grid: o.grid,
    xAxis: {
      type: 'category', data: o.cats, boundaryGap: true,
      axisLine: { lineStyle: { color: '#d4d4d4' } },
      axisTick: { show: true, length: 5, lineStyle: { color: '#d4d4d4' } },
      axisLabel: { interval: 0, color: GREY, fontSize: o.catSize, fontFamily: FONT, margin: o.catMargin }
    },
    yAxis: {
      type: 'log', logBase: 10, min: o.min, max: 100,
      axisLine: { show: false }, axisTick: { show: false },
      splitLine: { show: true, lineStyle: { color: '#e4e7ef', width: 1 } },
      axisLabel: Object.assign(tickLabel(10), { margin: 9 })
    },
    series: series,
    graphic: o.graphic
  });
}

const orange = '#EC7A3A', brown = '#B9592A', black = '#141414', greyLine = '#8a8a8a';
const blueDark = '#3F51A0', blueMid = '#5E6FBA', bluePale = '#9AA6D6';
const gD = '#3A7422', gD2 = '#4E8A2E', gM = '#6FA84A', gL = '#93C275', gP = '#B9DAA2';

spider('pC', {
  cats: REE, min: 1, catSize: 10, catMargin: 9,
  grid: { left: 43, top: 58, width: 497, height: 264 },
  band: [cBandHigh, cBandLow],
  lines: [
    { data: cBrown, color: brown },
    { data: cOrange1, color: orange },
    { data: cOrange2, color: orange },
    { data: cOrange3, color: brown },
    { data: cOrange4, color: orange },
    { data: cOrange5, color: orange },
    { data: c16STH23b, color: orange, width: 1.3 },
    { data: cGrey, color: greyLine, width: 1.5, z: 4 },
    { data: cBlack1, color: black, width: 2, z: 5 },
    { data: cBlack2, color: black, width: 2, z: 5 },
    { data: cBlack3, color: black, width: 2, z: 5 }
  ],
  graphic: [
    txt(278, 14, 'Andesite', 14),
    txt(12, 205, 'Sample/Chondrite', 12, { rot: Math.PI / 2 }),
    txt(361, 97, '16STH23b', 14, { color: DARK })
  ].concat(arrow(327, 106, 314, 121), [letterBox(503, 12, 41, 38, 'C')])
});

spider('pD', {
  cats: PM, min: 0.1, catSize: 9.5, catMargin: 10,
  grid: { left: 39, top: 64, width: 428, height: 262 },
  band: [dBandHigh, dBandLow],
  lines: [
    { data: dBrown1, color: brown },
    { data: dBrown2, color: brown },
    { data: dBrown3, color: brown },
    { data: dOrange1, color: orange },
    { data: dOrange2, color: orange },
    { data: d16STH23b, color: orange, width: 1.3 },
    { data: dGrey1, color: greyLine, width: 1.8, z: 4 },
    { data: dGrey2, color: greyLine, width: 1.5, z: 4 },
    { data: dGrey3, color: greyLine, width: 1.5, z: 4 },
    { data: dBlack1, color: black, width: 2, z: 5 },
    { data: dBlack2, color: black, width: 2, z: 5 },
    { data: dBlack3, color: black, width: 2, z: 5 }
  ],
  graphic: [
    txt(245, 13, 'Andesite', 14),
    txt(9, 173, 'Sample/Primitive mantle', 12, { rot: Math.PI / 2 }),
    txt(382, 117, '16STH23b', 14, { color: DARK })
  ].concat(arrow(418, 126, 435, 151), [letterBox(436, 6, 42, 38, 'D')])
});

spider('pE', {
  cats: REE, min: 1, catSize: 10, catMargin: 9,
  grid: { left: 43, top: 56, width: 497, height: 264 },
  band: [eBandHigh, eBandLow],
  lines: [
    { data: e16STH20, color: blueDark },
    { data: eBlue1, color: blueMid },
    { data: eBlue2, color: blueDark },
    { data: eBlue3, color: blueMid },
    { data: eBlue4, color: bluePale },
    { data: eBlue5, color: blueMid },
    { data: eBlue6, color: blueDark },
    { data: eBlue7, color: bluePale },
    { data: eBlue8, color: bluePale },
    { data: eBlue9, color: blueMid },
    { data: eBlue10, color: blueDark },
    { data: eBlue11, color: bluePale },
    { data: eGrey, color: '#7b7f95', width: 1.3, z: 4 },
    { data: e17TH11, color: black, width: 2, z: 5 },
    { data: eBlack2, color: black, width: 2, z: 5 },
    { data: eBlack3, color: black, width: 2.2, z: 5 }
  ],
  graphic: [
    txt(278, 13, 'Dacite', 14),
    txt(12, 199, 'Sample/Chondrite', 12, { rot: Math.PI / 2 }),
    txt(376, 105, '17TH11', 14, { color: DARK }),
    txt(298, 238, '16STH20', 14, { color: DARK })
  ].concat(arrow(350, 98, 334, 87), arrow(268, 233, 252, 222), [letterBox(503, 8, 41, 39, 'E')])
});

spider('pF', {
  cats: PM, min: 0.1, catSize: 9.5, catMargin: 10,
  grid: { left: 39, top: 51, width: 428, height: 275 },
  band: [fBandHigh, fBandLow],
  lines: [
    { data: f16STH20, color: blueDark },
    { data: fBlue1, color: blueDark },
    { data: fBlue2, color: blueMid },
    { data: fBlue3, color: blueDark },
    { data: fBlue4, color: blueMid },
    { data: fBlue5, color: bluePale },
    { data: fBlue6, color: blueMid },
    { data: fBlue7, color: bluePale },
    { data: fBlue8, color: blueMid },
    { data: fBlue9, color: bluePale },
    { data: fGrey1, color: greyLine, width: 1.5, z: 4 },
    { data: fGrey2, color: greyLine, width: 1.5, z: 4 },
    { data: f17TH11, color: black, width: 2, z: 5 },
    { data: fBlack2, color: black, width: 2, z: 5 },
    { data: fBlack3, color: black, width: 2, z: 5 }
  ],
  graphic: [
    txt(245, 11, 'Dacite', 14),
    txt(10, 167, 'Sample/Primitive mantle', 12, { rot: Math.PI / 2 }),
    txt(395, 75, '17TH11', 14, { color: DARK }),
    txt(318, 224, '16STH20', 14, { color: DARK })
  ].concat(arrow(412, 86, 408, 107), arrow(344, 217, 360, 202), [letterBox(437, 1, 42, 38, 'F')])
});

spider('pG', {
  cats: REE, min: 1, catSize: 10, catMargin: 9,
  grid: { left: 43, top: 57, width: 497, height: 266 },
  band: null,
  lines: [
    { data: gG10, color: gP }, { data: gG9, color: gP }, { data: gG15, color: gP }, { data: gG17, color: gL },
    { data: g17TH06, color: gP }, { data: gG19, color: gP }, { data: gG20, color: gL }, { data: gG18, color: gP },
    { data: gG13, color: gL }, { data: gG23, color: gP }, { data: gG22, color: gL }, { data: gG11, color: gM },
    { data: gG12, color: gM }, { data: gG14, color: gM }, { data: gG16, color: gM }, { data: gG7, color: gM },
    { data: gG8, color: gL }, { data: gG21, color: gM }, { data: gG6, color: gM },
    { data: gG5, color: gD2, width: 1.4 }, { data: gG3, color: gD2, width: 1.4 }, { data: gG2, color: gD, width: 1.6 },
    { data: gG1, color: gD2, width: 1.6 }, { data: gG4, color: gD, width: 1.6 }, { data: gG24, color: gD2, width: 1.4 },
    { data: g17TH32a, color: gD, width: 1.6 }, { data: g16STH02, color: gD, width: 1.8 },
    { data: gTH25, color: black, width: 2, z: 5 },
    { data: g17TH05, color: black, width: 2, z: 5 },
    { data: gBlack3, color: black, width: 2, z: 5 }
  ],
  graphic: [
    txt(278, 14, 'Rhyodacite', 14),
    txt(12, 199, 'Sample/Chondrite', 12, { rot: Math.PI / 2 }),
    txt(289, 47, 'TH25\u2019, 17TH05', 14, { color: DARK }),
    txt(377, 132, 'TH-27, 16STH01a, 16STH09b', 14, { color: DARK }),
    txt(94, 245, '16STH02', 14, { color: DARK }),
    txt(270, 279, '17TH32a', 14, { color: DARK }),
    txt(432, 250, '17TH06', 14, { color: DARK })
  ].concat(
    arrow(234, 55, 218, 106), arrow(234, 55, 242, 79),
    arrow(283, 135, 244, 146), arrow(283, 135, 247, 158), arrow(283, 135, 253, 168),
    arrow(101, 233, 117, 218), arrow(262, 267, 247, 226), arrow(403, 242, 386, 222),
    [letterBox(503, 7, 41, 40, 'G')])
});

spider('pH', {
  cats: PM, min: 0.1, catSize: 9.5, catMargin: 10,
  grid: { left: 39, top: 59, width: 428, height: 269 },
  band: null,
  lines: [
    { data: hG1, color: gL }, { data: hG12, color: gP }, { data: hG10, color: gL }, { data: hG11, color: gP },
    { data: hG4, color: gM }, { data: hG7, color: gL }, { data: hG15, color: gL }, { data: hG13, color: gM },
    { data: hG9, color: gM }, { data: hG6, color: gM }, { data: hG14, color: gL }, { data: hG16, color: gL },
    { data: hG17, color: gP }, { data: hG18, color: gM }, { data: hG19, color: gL }, { data: hG20, color: gP },
    { data: hG21, color: gD2 },
    { data: hG5, color: gD2 }, { data: hG8, color: gD2 }, { data: hG3, color: gD, width: 1.4 },
    { data: hG2, color: gD, width: 1.4 },
    { data: hTH25, color: black, width: 2, z: 5 },
    { data: h17TH05, color: black, width: 2, z: 5 },
    { data: hBlack3, color: black, width: 2.2, z: 5 }
  ],
  graphic: [
    txt(245, 12, 'Rhyodacite', 14),
    txt(9, 170, 'Sample/Primitive mantle', 12, { rot: Math.PI / 2 }),
    txt(376, 88, 'TH25\u2019, 17TH05', 14, { color: DARK })
  ].concat(arrow(425, 98, 433, 116), arrow(425, 98, 417, 143), [letterBox(437, 5, 42, 40, 'H')])
});
</script>
</body>
</html>
